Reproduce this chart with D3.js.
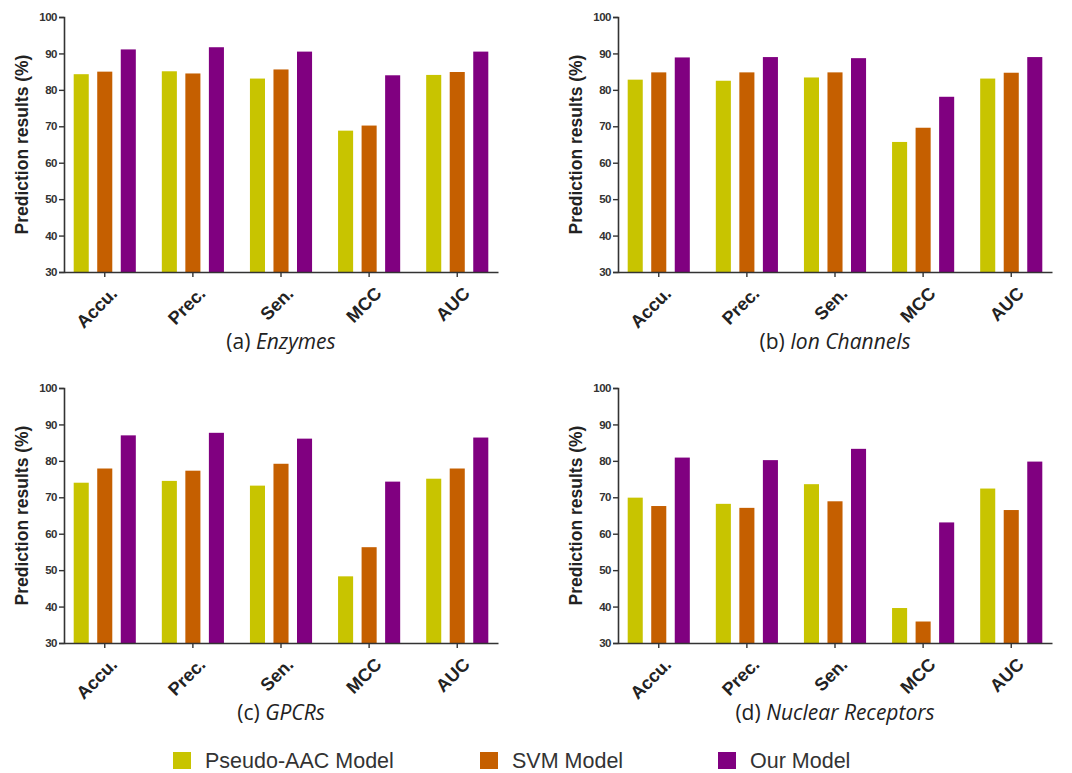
<!DOCTYPE html>
<html>
<head>
<meta charset="utf-8">
<script src="https://cdn.jsdelivr.net/npm/d3@7"></script>
<style>
  body { margin: 0; background: #fff; }
  svg { display: block; }
</style>
</head>
<body>
<script>
// DATA
const metrics = ["Accu.", "Prec.", "Sen.", "MCC", "AUC"];
const models = ["Pseudo-AAC Model", "SVM Model", "Our Model"];
const yTicks = [30, 40, 50, 60, 70, 80, 90, 100];

const enzymesPseAAC = [84.3, 85.1, 83.1, 68.8, 84.1];
const enzymesSVM    = [85.0, 84.5, 85.6, 70.2, 84.9];
const enzymesOurs   = [91.1, 91.7, 90.5, 84.0, 90.5];

const ionPseAAC = [82.8, 82.5, 83.4, 65.7, 83.1];
const ionSVM    = [84.8, 84.8, 84.8, 69.6, 84.7];
const ionOurs   = [88.9, 89.0, 88.7, 78.1, 89.0];

const gpcrPseAAC = [74.0, 74.5, 73.2, 48.3, 75.1];
const gpcrSVM    = [77.9, 77.3, 79.2, 56.3, 77.9];
const gpcrOurs   = [87.0, 87.7, 86.1, 74.3, 86.4];

const nrPseAAC = [69.9, 68.2, 73.6, 39.6, 72.4];
const nrSVM    = [67.6, 67.1, 68.9, 35.9, 66.5];
const nrOurs   = [80.9, 80.2, 83.3, 63.1, 79.8];

const panelTags  = ["(a) ", "(b) ", "(c) ", "(d) "];
const panelNames = ["Enzymes", "Ion Channels", "GPCRs", "Nuclear Receptors"];

//USEFUL VARIABLES
const svgwidth = 1072;
const svgheight = 773;
const colors = ["#c8c400", "#c55f00", "#800080"];
const plotW = 434;
const plotH = 255;
const lefts = [64, 618, 64, 618];
const tops = [17, 17, 388, 388];

const panels = [
    [enzymesPseAAC, enzymesSVM, enzymesOurs],
    [ionPseAAC, ionSVM, ionOurs],
    [gpcrPseAAC, gpcrSVM, gpcrOurs],
    [nrPseAAC, nrSVM, nrOurs]
];

//SCALES
const X = d3.scaleBand()
            .domain(metrics)
            .range([0, plotW])
            .paddingInner(0.295)
            .paddingOuter(0.11);
const XM = d3.scaleBand()
            .domain(models)
            .range([0, X.bandwidth()])
            .paddingInner(0.36);
const Y = d3.scaleLinear()
            .domain([30, 100])
            .range([plotH, 0]);

const svg = d3.select("body").append("svg")
                .attr("width", svgwidth)
                .attr("height", svgheight);

panels.forEach((series, p) => {
    const graph = svg.append("g").classed("graph", true)
                    .attr("transform", `translate(${lefts[p]}, ${tops[p]})`);

    //BARS
    series.forEach((vals, m) => {
        graph.selectAll(".bar-" + m)
            .data(vals)
            .enter().append("rect").classed("bar-" + m, true)
            .attr("x", (d, i) => X(metrics[i]) + XM(models[m]))
            .attr("y", d => Y(d))
            .attr("width", XM.bandwidth())
            .attr("height", d => plotH - Y(d))
            .attr("fill", colors[m]);
    });

    //Y AXIS
    const yAxis = graph.append("g")
                    .call(d3.axisLeft(Y).tickValues(yTicks).tickSize(5).tickPadding(2));
    yAxis.select(".domain").attr("stroke", "#333").attr("stroke-width", 1.6);
    yAxis.selectAll(".tick line").attr("stroke", "#333").attr("stroke-width", 1.4);
    yAxis.selectAll(".tick text")
        .attr("font-family", "Liberation Sans, Arial, sans-serif")
        .attr("font-weight", "bold")
        .attr("font-size", 11.5)
        .attr("fill", "#333")
        .attr("letter-spacing", -0.5);

    //X AXIS
    const xAxis = graph.append("g")
                    .attr("transform", `translate(0, ${plotH})`)
                    .call(d3.axisBottom(X).tickSize(5).tickSizeOuter(0).tickPadding(3));
    xAxis.select(".domain").attr("stroke", "#333").attr("stroke-width", 1.6);
    xAxis.selectAll(".tick line").attr("stroke", "#333").attr("stroke-width", 1.4);
    xAxis.selectAll(".tick text")
        .attr("font-family", "Liberation Sans, Arial, sans-serif")
        .attr("font-weight", "bold")
        .attr("font-size", 18)
        .attr("fill", "#222")
        .attr("text-anchor", "end")
        .attr("dy", 0)
        .attr("transform", "translate(8, 17) rotate(-45)");

    //Y LABEL
    graph.append("text")
        .attr("transform", `translate(-36, ${plotH / 2}) rotate(-90)`)
        .attr("text-anchor", "middle")
        .attr("font-family", "Liberation Sans, Arial, sans-serif")
        .attr("font-weight", "bold")
        .attr("font-size", 17.5)
        .attr("fill", "#222")
        .text("Prediction results (%)");

    //SUBTITLE
    const sub = graph.append("text")
        .attr("x", plotW / 2)
        .attr("y", plotH + 77)
        .attr("text-anchor", "middle")
        .attr("font-family", "Open Sans, sans-serif")
        .attr("font-size", 21)
        .attr("fill", "#222");
    sub.append("tspan").text(panelTags[p]);
    sub.append("tspan").attr("font-style", "italic").text(panelNames[p]);
});

//LEGEND
const legendX = [205, 512, 750];
const legend = svg.selectAll(".legend")
                .data(models)
                .enter().append("g").classed("legend", true)
                .attr("transform", (d, i) => `translate(${legendX[i]}, 768)`);
legend.append("rect")
    .attr("x", -32)
    .attr("y", -16)
    .attr("width", 18)
    .attr("height", 17)
    .attr("fill", (d, i) => colors[i]);
legend.append("text")
    .attr("font-family", "Liberation Sans, Arial, sans-serif")
    .attr("font-size", 21.5)
    .attr("fill", "#333")
    .text(d => d);
</script>
</body>
</html>
